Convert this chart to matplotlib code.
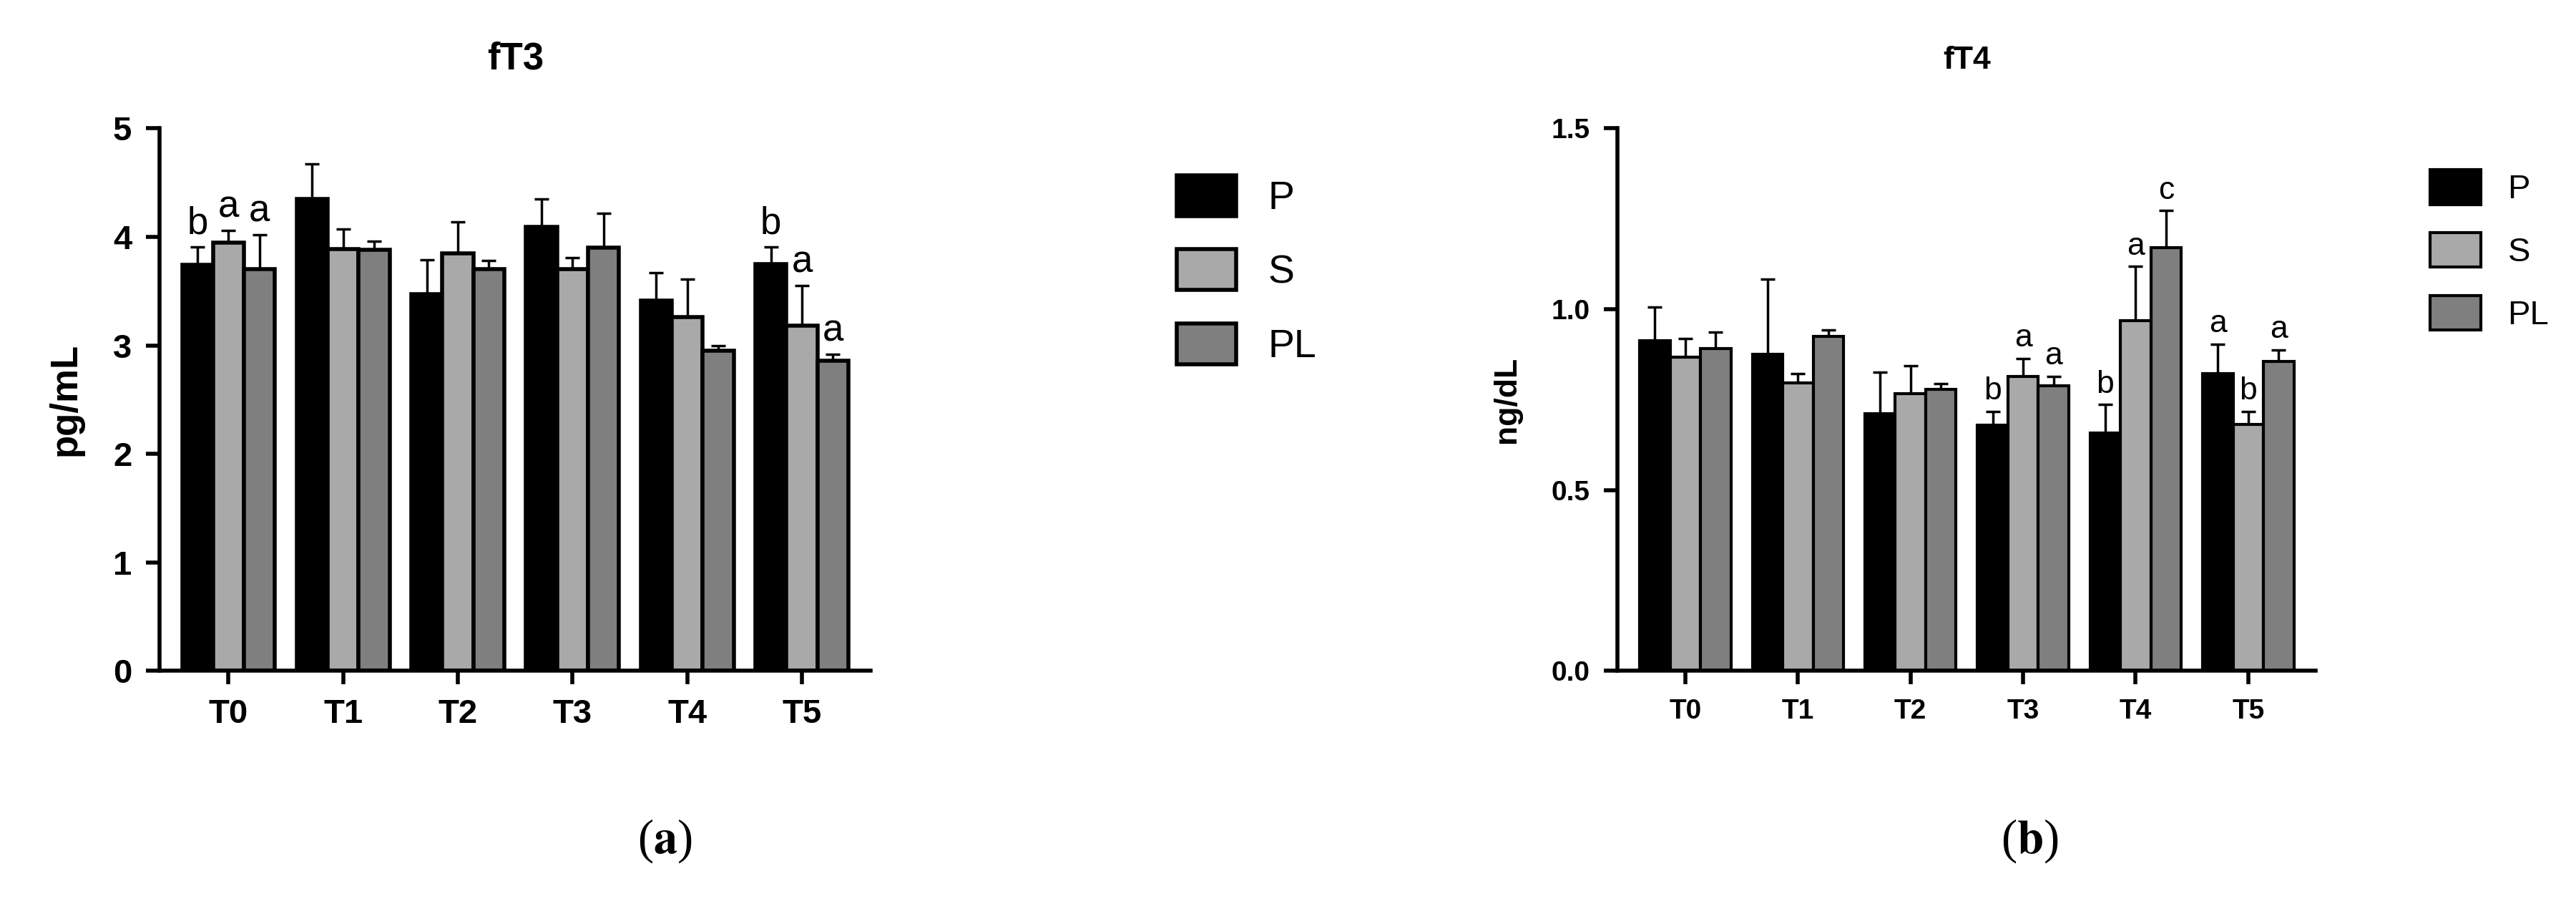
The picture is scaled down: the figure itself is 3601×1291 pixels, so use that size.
import numpy as np
import matplotlib.pyplot as plt

groups = ["T0", "T1", "T2", "T3", "T4", "T5"]
series = ["P", "S", "PL"]

ft3_mean = {"P": [3.74, 4.35, 3.47, 4.09, 3.41, 3.75],
            "S": [3.95, 3.89, 3.85, 3.70, 3.26, 3.18],
            "PL": [3.70, 3.88, 3.70, 3.90, 2.95, 2.86]}
ft3_top = {"P": [3.91, 4.67, 3.79, 4.35, 3.67, 3.91],
           "S": [4.06, 4.07, 4.14, 3.81, 3.61, 3.55],
           "PL": [4.02, 3.96, 3.78, 4.22, 3.00, 2.92]}
ft3_letters = {"P": ["b", "", "", "", "", "b"],
               "S": ["a", "", "", "", "", "a"],
               "PL": ["a", "", "", "", "", "a"]}

ft4_mean = {"P": [0.913, 0.876, 0.712, 0.679, 0.657, 0.821],
            "S": [0.867, 0.797, 0.767, 0.815, 0.968, 0.682],
            "PL": [0.892, 0.925, 0.779, 0.788, 1.171, 0.855]}
ft4_top = {"P": [1.007, 1.083, 0.825, 0.718, 0.736, 0.904],
           "S": [0.919, 0.821, 0.843, 0.864, 1.118, 0.718],
           "PL": [0.937, 0.943, 0.794, 0.815, 1.273, 0.888]}
ft4_letters = {"P": ["", "", "", "b", "b", "a"],
               "S": ["", "", "", "a", "a", "b"],
               "PL": ["", "", "", "a", "c", "a"]}

colors = {"P": "#000000", "S": "#a9a9a9", "PL": "#7f7f7f"}

plt.rcParams["font.family"] = ["Liberation Sans", "DejaVu Sans"]
fig = plt.figure(figsize=(36.01, 12.91), dpi=100)


def panel(rect, title, ylabel, means, tops, letters, ylim, yticks, yfmt, fs, lab_off, leg_x, lw):
    ax = fig.add_axes(rect)
    x = np.arange(len(groups))
    w = 0.27
    for i, s in enumerate(series):
        xs = x + (i - 1) * w
        m = np.array(means[s])
        err = np.array(tops[s]) - m
        ax.bar(xs, m, width=w, color=colors[s], edgecolor="black", linewidth=lw, label=s, zorder=2)
        ax.errorbar(xs, m, yerr=[np.zeros_like(err), err], fmt="none", ecolor="black",
                    elinewidth=2.5, capsize=7, capthick=2.5, zorder=1)
        for j, t in enumerate(letters[s]):
            if t:
                ax.text(xs[j], tops[s][j] + lab_off, t, ha="center", va="bottom", fontsize=fs + 4)
    ax.set_xlim(-0.6, len(groups) - 0.4)
    ax.set_ylim(*ylim)
    ax.set_yticks(yticks)
    ax.set_yticklabels([yfmt.format(v) for v in yticks], fontsize=fs, fontweight="bold")
    ax.set_xticks(x)
    ax.set_xticklabels(groups, fontsize=fs, fontweight="bold")
    for sp in ["top", "right"]:
        ax.spines[sp].set_visible(False)
    for sp in ["left", "bottom"]:
        ax.spines[sp].set_linewidth(4)
    ax.tick_params(width=4, length=14, pad=14)
    ax.set_title(title, fontsize=fs + 4, fontweight="bold", pad=60)
    ax.set_ylabel(ylabel, fontsize=fs + 4, fontweight="bold", labelpad=30)
    ax.legend(loc="upper left", bbox_to_anchor=(leg_x, 0.98), frameon=False, fontsize=fs + 6,
              handlelength=1.5, handleheight=1.2, labelspacing=0.8)
    return ax


panel([0.062, 0.274, 0.276, 0.587], "fT3", "pg/mL", ft3_mean, ft3_top, ft3_letters,
      (0, 5), [0, 1, 2, 3, 4, 5], "{:g}", 34, 0.05, 1.38, 4)
panel([0.628, 0.274, 0.271, 0.587], "fT4", "ng/dL", ft4_mean, ft4_top, ft4_letters,
      (0, 1.5), [0.0, 0.5, 1.0, 1.5], "{:.1f}", 28, 0.015, 1.12, 3)

fig.text(0.258, 0.09, r"($\mathbf{a}$)", ha="center", va="center", fontsize=48,
         family="Liberation Serif", math_fontfamily="stix")
fig.text(0.788, 0.09, r"($\mathbf{b}$)", ha="center", va="center", fontsize=48,
         family="Liberation Serif", math_fontfamily="stix")

fig.savefig("out.png", dpi=100)
